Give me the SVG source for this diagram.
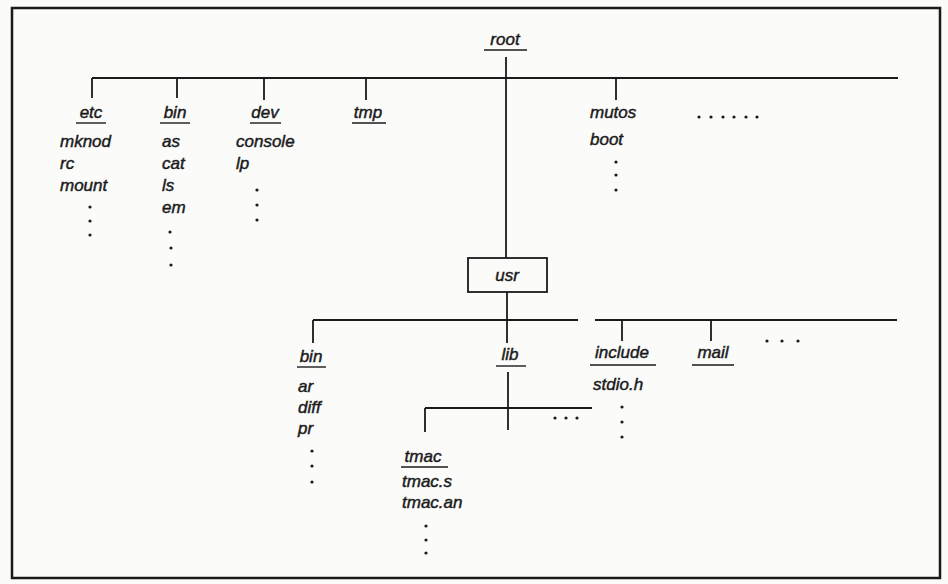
<svg xmlns="http://www.w3.org/2000/svg" width="948" height="584" viewBox="0 0 948 584">
<style>
text{font-family:"Liberation Sans",Arial,sans-serif;font-style:italic;font-size:17px;fill:#1a1a1a;stroke:#1a1a1a;stroke-width:0.45}
.c{text-anchor:middle}
.ln{stroke:#1a1a1a;stroke-width:1.8;fill:none}
.ul{stroke:#1a1a1a;stroke-width:1.4}
.d{fill:#1a1a1a}
</style>
<rect x="0" y="0" width="948" height="584" fill="#fbfbfa"/>
<rect x="12" y="8" width="928" height="570" fill="none" stroke="#1a1a1a" stroke-width="2.5"/>
<g id="connectors" class="ln">
<path d="M92 78 H898"/>
<path d="M92 78 V98 M177 78 V98 M264 78 V100 M366 78 V100 M616 78 V100"/>
<path d="M506 57 V258"/>
<path d="M507 292 V343"/>
<path d="M313 320 H578 M595 320 H897"/>
<path d="M313 320 V343 M622 320 V341 M711 320 V341"/>
<path d="M508 372 V430"/>
<path d="M425 408 H592 M425 408 V432"/>
</g>
<g id="root"><text class="c" x="505" y="45">root</text><line class="ul" x1="484" y1="50" x2="527" y2="50"/></g>
<g id="etc"><text class="c" x="91" y="118">etc</text><line class="ul" x1="76" y1="123" x2="106" y2="123"/>
<text x="60" y="147">mknod</text><text x="60" y="169">rc</text><text x="60" y="191">mount</text>
<circle class="d" cx="90" cy="207" r="1.6"/><circle class="d" cx="90" cy="221" r="1.6"/><circle class="d" cx="90" cy="235" r="1.6"/></g>
<g id="bin"><text class="c" x="175" y="118">bin</text><line class="ul" x1="160" y1="123" x2="190" y2="123"/>
<text x="162" y="147">as</text><text x="162" y="169">cat</text><text x="162" y="191">ls</text><text x="162" y="213">em</text>
<circle class="d" cx="170" cy="232" r="1.6"/><circle class="d" cx="171" cy="248" r="1.6"/><circle class="d" cx="171" cy="265" r="1.6"/></g>
<g id="dev"><text class="c" x="265" y="118">dev</text><line class="ul" x1="250" y1="123" x2="281" y2="123"/>
<text x="236" y="147">console</text><text x="236" y="169">lp</text>
<circle class="d" cx="257" cy="190" r="1.6"/><circle class="d" cx="257" cy="205" r="1.6"/><circle class="d" cx="257" cy="220" r="1.6"/></g>
<g id="tmp"><text class="c" x="368" y="118">tmp</text><line class="ul" x1="352" y1="123" x2="386" y2="123"/></g>
<g id="mutos"><text x="590" y="118">mutos</text><text x="590" y="145">boot</text>
<circle class="d" cx="616" cy="162" r="1.6"/><circle class="d" cx="616" cy="175" r="1.6"/><circle class="d" cx="616" cy="190" r="1.6"/></g>
<g id="more-root"><circle class="d" cx="699" cy="117" r="1.6"/><circle class="d" cx="711" cy="117" r="1.6"/><circle class="d" cx="723" cy="117" r="1.6"/><circle class="d" cx="734" cy="117" r="1.6"/><circle class="d" cx="746" cy="117" r="1.6"/><circle class="d" cx="757" cy="117" r="1.6"/></g>
<g id="usr"><rect x="468" y="258" width="79" height="34" fill="none" stroke="#1a1a1a" stroke-width="1.8"/><text class="c" x="507" y="281">usr</text></g>
<g id="usr-bin"><text class="c" x="311" y="362">bin</text><line class="ul" x1="297" y1="367" x2="326" y2="367"/>
<text x="298" y="392">ar</text><text x="298" y="413">diff</text><text x="298" y="434">pr</text>
<circle class="d" cx="312" cy="451" r="1.6"/><circle class="d" cx="312" cy="466" r="1.6"/><circle class="d" cx="312" cy="482" r="1.6"/></g>
<g id="lib"><text class="c" x="510" y="360">lib</text><line class="ul" x1="496" y1="366" x2="526" y2="366"/></g>
<g id="include"><text class="c" x="622" y="358">include</text><line class="ul" x1="590" y1="365" x2="656" y2="365"/>
<text x="593" y="390">stdio.h</text>
<circle class="d" cx="622" cy="407" r="1.6"/><circle class="d" cx="622" cy="422" r="1.6"/><circle class="d" cx="622" cy="437" r="1.6"/></g>
<g id="mail"><text class="c" x="713" y="358">mail</text><line class="ul" x1="692" y1="365" x2="734" y2="365"/></g>
<g id="more-usr"><circle class="d" cx="767" cy="341" r="1.6"/><circle class="d" cx="782" cy="341" r="1.6"/><circle class="d" cx="798" cy="341" r="1.6"/></g>
<g id="more-lib"><circle class="d" cx="555" cy="418" r="1.6"/><circle class="d" cx="566" cy="418" r="1.6"/><circle class="d" cx="577" cy="418" r="1.6"/></g>
<g id="tmac"><text class="c" x="423" y="462">tmac</text><line class="ul" x1="401" y1="467" x2="448" y2="467"/>
<text x="402" y="487">tmac.s</text><text x="402" y="508">tmac.an</text>
<circle class="d" cx="426" cy="526" r="1.6"/><circle class="d" cx="426" cy="540" r="1.6"/><circle class="d" cx="426" cy="553" r="1.6"/></g>
</svg>
